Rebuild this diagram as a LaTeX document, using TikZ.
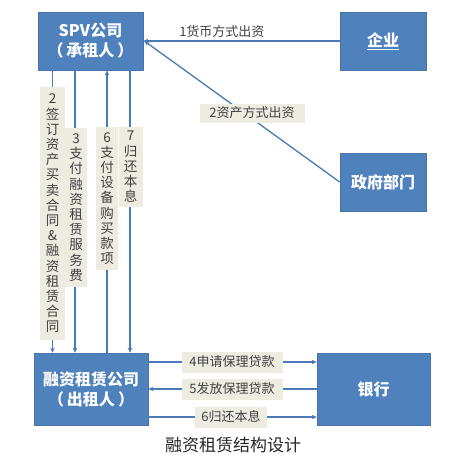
\documentclass[tikz,border=0pt]{standalone}
\usepackage{fontspec}
\setmainfont{Noto Sans CJK SC}
\usetikzlibrary{arrows.meta,calc}
\definecolor{boxblue}{HTML}{4F81BD}
\definecolor{lineblue}{HTML}{4A7AB8}
\definecolor{beige}{HTML}{EEECE1}
\definecolor{labtext}{HTML}{404040}
\begin{document}
\begin{tikzpicture}[x=1pt,y=-1pt,
  box/.style={draw=boxblue!90!black,line width=0.6pt,fill=boxblue,text=white,font=\fontsize{16}{20}\selectfont\bfseries,align=center,inner sep=0pt},
  conn/.style={draw=lineblue,line width=1.3pt,-{Stealth[length=5pt,width=4.5pt]}},
  lab/.style={fill=beige,text=labtext,font=\fontsize{13}{15}\selectfont,align=center,inner sep=2pt},
  vlab/.style={fill=beige,text=labtext,font=\fontsize{13.5}{15.2}\selectfont,align=center,inner xsep=3pt,inner ysep=3pt},
  freelab/.style={text=labtext,font=\fontsize{13}{15}\selectfont,inner sep=0pt}]
\useasboundingbox[fill=white] (0,0) rectangle (465,460);

\node[box,minimum width=105pt,minimum height=58pt] (spv) at (90.5,41) {SPV公司\\（\hspace{3pt}承租人\hspace{3pt}）};
\node[box,minimum width=86pt,minimum height=58pt] (qiye) at (383,41) {\underline{企业}};
\node[box,minimum width=86pt,minimum height=58pt] (zf) at (383,182) {政府部门};
\node[box,minimum width=114pt,minimum height=72pt] (rz) at (91,389) {融资租赁公司\\（\hspace{3pt}出租人\hspace{3pt}）};
\node[box,minimum width=113pt,minimum height=72pt] (yh) at (373.5,389) {银行};

% top connectors
\draw[conn] (qiye.west) -- (spv.east) node[freelab,pos=0.6,above=3pt] {1货币方式出资};
\draw[conn] (zf.west) -- ($(spv.east)+(1,0)$);
\node[lab,minimum width=105pt,minimum height=19pt] (l2b) at (252,113) {2资产方式出资};

% vertical connectors
\draw[conn] (spv.south -| 52.5,0) -- (rz.north -| 52.5,0);
\draw[conn] (spv.south -| 75,0) -- (rz.north -| 75,0);
\draw[conn] (rz.north -| 107,0) -- (spv.south -| 107,0);
\draw[conn] (spv.south -| 130,0) -- (rz.north -| 130,0);

\node[vlab,minimum width=25pt,minimum height=253pt] (v2) at (52.5,213.5) {2\\签\\订\\资\\产\\买\\卖\\合\\同\\\&\\融\\资\\租\\赁\\合\\同};
\node[vlab,minimum width=22pt,minimum height=159pt] (v3) at (76,207.5) {3\\支\\付\\融\\资\\租\\赁\\服\\务\\费};
\node[vlab,minimum width=22pt,minimum height=143pt] (v6) at (107,198.5) {6\\支\\付\\设\\备\\购\\买\\款\\项};
\node[vlab,minimum width=24pt,minimum height=80pt] (v7) at (130.5,167) {7\\归\\还\\本\\息};

% bottom connectors
\draw[conn] (rz.east |- 0,362) -- (yh.west |- 0,362);
\draw[conn] (yh.west |- 0,389) -- (rz.east |- 0,389);
\draw[conn] (rz.east |- 0,417) -- (yh.west |- 0,417);
\node[lab,minimum width=101pt,minimum height=21pt] (b4) at (232,362) {4申请保理贷款};
\node[lab,minimum width=101pt,minimum height=21pt] (b5) at (232,389) {5发放保理贷款};
\node[lab,minimum width=72pt,minimum height=21pt] (b6) at (231,417) {6归还本息};

\node[text=black!85,font=\fontsize{17}{20}\selectfont] (cap) at (233,445) {融资租赁结构设计};
\end{tikzpicture}
\end{document}
